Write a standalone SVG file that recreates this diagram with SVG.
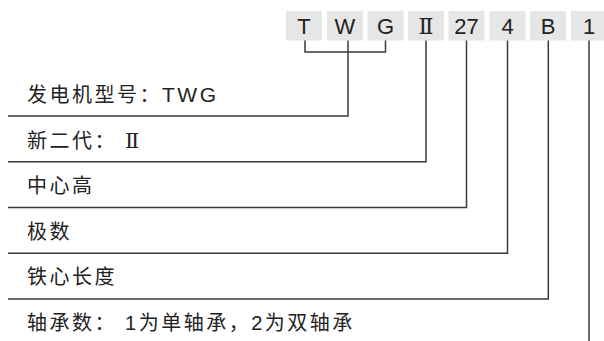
<svg xmlns="http://www.w3.org/2000/svg" width="604" height="341" viewBox="0 0 604 341">
<style>
.box{fill:#e6e6e7}
.code{font-family:"Liberation Sans","Noto Sans CJK SC",sans-serif;font-size:22px;fill:#222;text-anchor:middle}
.roman{font-family:"Liberation Serif","DejaVu Serif",serif}
.lbl{font-family:"Liberation Sans","Noto Sans CJK SC",sans-serif;font-size:20px;letter-spacing:2.5px;fill:#222}
.ln{fill:none;stroke:#3a3a3a;stroke-width:1.5}
</style>
<rect width="604" height="341" fill="#fff"/>
<g id="codes">
<g id="code-T"><rect class="box" x="286" y="11" width="36" height="29.5"/><text class="code" x="304" y="33.5">T</text></g>
<g id="code-W"><rect class="box" x="327" y="11" width="36" height="29.5"/><text class="code" x="345" y="33.5">W</text></g>
<g id="code-G"><rect class="box" x="367.5" y="11" width="36" height="29.5"/><text class="code" x="385.5" y="33.5">G</text></g>
<g id="code-II"><rect class="box" x="408" y="11" width="36" height="29.5"/><text class="code roman" x="426" y="33.5">Ⅱ</text></g>
<g id="code-27"><rect class="box" x="448.5" y="11" width="36" height="29.5"/><text class="code" x="466.5" y="33.5">27</text></g>
<g id="code-4"><rect class="box" x="489.5" y="11" width="36" height="29.5"/><text class="code" x="507.5" y="33.5">4</text></g>
<g id="code-B"><rect class="box" x="530" y="11" width="36" height="29.5"/><text class="code" x="548" y="33.5">B</text></g>
<g id="code-1"><rect class="box" x="571" y="11" width="36" height="29.5"/><text class="code" x="589" y="33.5">1</text></g>
</g>
<g id="labels">
<g id="label-1"><text class="lbl" x="27" y="102">发电机型号：<tspan font-size="21">TWG</tspan></text></g>
<g id="label-2"><text class="lbl" x="27" y="147.5">新二代： <tspan class="roman" font-size="21">Ⅱ</tspan></text></g>
<g id="label-3"><text class="lbl" x="27" y="193">中心高</text></g>
<g id="label-4"><text class="lbl" x="27" y="238.5">极数</text></g>
<g id="label-5"><text class="lbl" x="27" y="284">铁心长度</text></g>
<g id="label-6"><text class="lbl" x="27" y="330">轴承数： 1为单轴承，2为双轴承</text></g>
</g>
<g id="connectors">
<path class="ln" d="M305,40.5 V52 H385.5 V40.5"/>
<path class="ln" d="M348,40.5 V116 H8"/>
<path class="ln" d="M426,40.5 V161.8 H8"/>
<path class="ln" d="M466.5,40.5 V207.5 H8"/>
<path class="ln" d="M507.5,40.5 V253.3 H8"/>
<path class="ln" d="M548.3,40.5 V299 H8"/>
<path class="ln" d="M589,40.5 V341"/>
</g>
</svg>
